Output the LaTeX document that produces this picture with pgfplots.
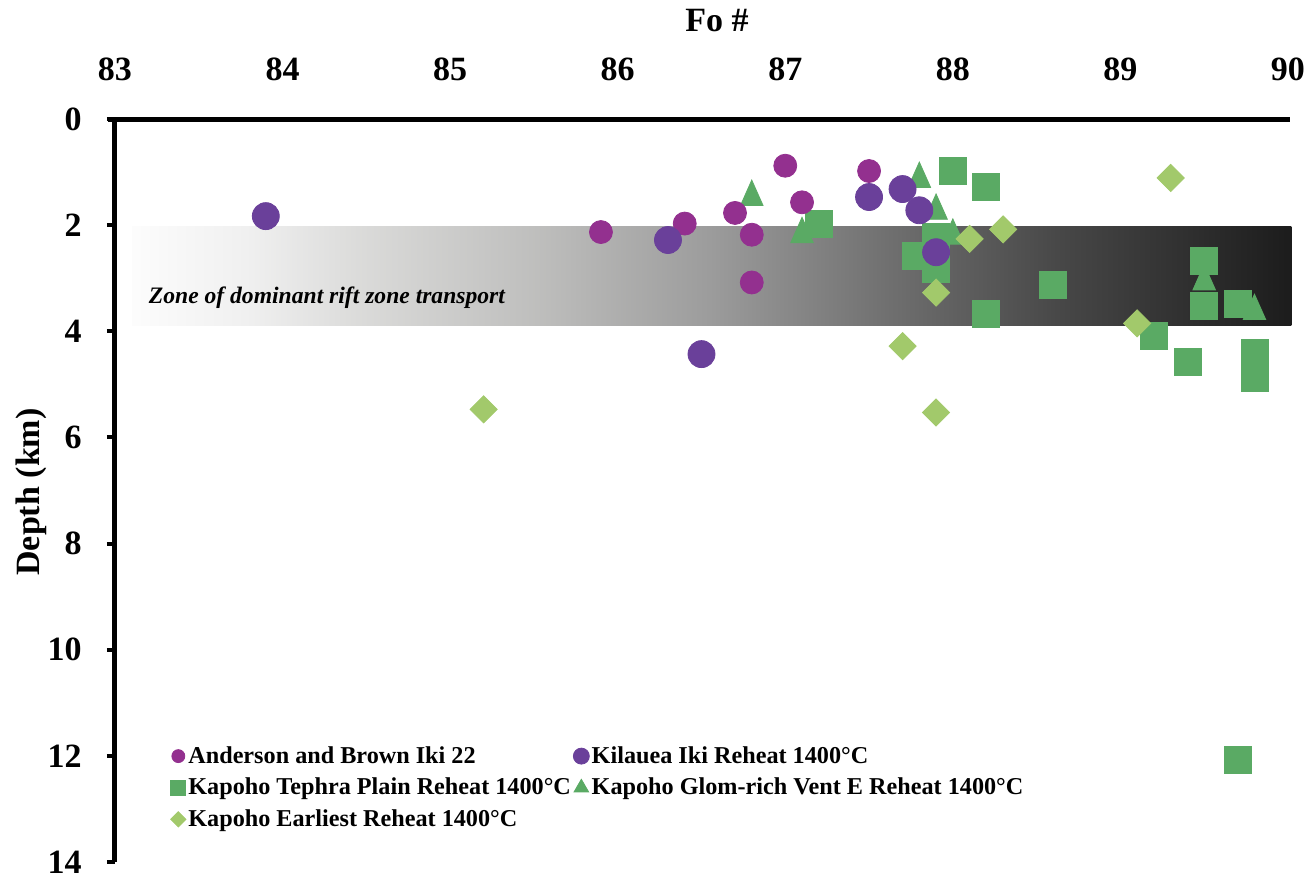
\documentclass[border=0pt]{standalone}
\usepackage{fontspec}
\setmainfont{Liberation Serif}
\usepackage{pgfplots}
\pgfplotsset{compat=1.18}
\definecolor{anderson}{HTML}{93308F}
\definecolor{kilauea}{HTML}{6A409A}
\definecolor{tephra}{HTML}{5AAA64}
\definecolor{earliest}{HTML}{A2C96B}
\pgfdeclarehorizontalshading{band}{100bp}{rgb(0bp)=(0.99,0.99,0.99); rgb(25bp)=(0.99,0.99,0.99); rgb(30bp)=(0.94,0.94,0.94); rgb(35bp)=(0.855,0.855,0.85); rgb(42.5bp)=(0.745,0.745,0.74); rgb(50bp)=(0.61,0.61,0.61); rgb(57.5bp)=(0.44,0.44,0.44); rgb(65bp)=(0.28,0.28,0.28); rgb(75bp)=(0.11,0.11,0.11); rgb(100bp)=(0.11,0.11,0.11)}
\begin{document}
\begin{tikzpicture}
\path[use as bounding box] (-57.5pt,-9pt) rectangle (596pt,431pt);
\begin{axis}[
  scale only axis, width=586.5pt, height=371.5pt,
  xmin=83, xmax=90, ymin=0, ymax=14, y dir=reverse,
  xtick={83,84,...,90}, ytick={0,2,...,14},
  axis line style={draw=none},
  xtick style={draw=none},
  ytick style={line width=2pt, black},
  tick align=outside, major tick length=4pt,
  ytick pos=left,
  xticklabel pos=upper,
  /pgf/number format/assume math mode=true,
  ticklabel style={font=\bfseries\fontsize{17}{20}\selectfont},
  xticklabel style={anchor=south, inner sep=0pt, yshift=15pt},
  yticklabel style={anchor=east, inner sep=0pt, xshift=-12.5pt},
  clip=false,
  legend columns=2,
  legend cell align=left,
  legend style={draw=none, fill=none, at={(axis cs:83.33,12.6)}, anchor=west,
    font=\bfseries\fontsize{12.1}{14}\selectfont, inner sep=0pt,
    row sep=3.5pt, column sep=0pt, nodes={inner sep=1.2pt}},
  legend image code/.code={\draw[mark repeat=2,mark phase=2,#1] plot coordinates {(0pt,0pt)(3pt,0pt)(6pt,0pt)};},
]
\shade[shading=band] (axis cs:83.1,2.02) rectangle (axis cs:90.02,3.89);
\node[anchor=west, font=\bfseries\itshape\fontsize{11.8}{13}\selectfont, inner sep=0pt] at (axis cs:83.2,3.37) {Zone of dominant rift zone transport};
\draw[line width=2.5pt] (axis cs:82.958,0) -- (axis cs:90.01,0);
\draw[line width=2.5pt] (axis cs:83,0) -- (axis cs:83,14);

% Kapoho Glom-rich Vent E (triangles)
\addplot[only marks, mark=triangle*, color=tephra, mark size=6.5pt, mark options={yscale=1.3}, forget plot] coordinates {
(86.80,1.47) (87.10,2.17) (87.80,1.13) (87.90,1.73) (88.00,2.20) (89.50,3.06) (89.80,3.62)};
% Kapoho Tephra Plain (squares)
\addplot[only marks, mark=square*, color=tephra, mark size=6.75pt, forget plot] coordinates {
(87.20,1.98) (88.00,0.98) (88.20,1.28) (87.90,2.23) (87.78,2.58) (87.90,2.83) (88.20,3.68) (88.60,3.13)
(89.50,2.68) (89.50,3.52) (89.70,3.49) (89.20,4.09) (89.40,4.58) (89.80,4.40) (89.80,4.87) (89.70,12.08)};
% Kapoho Earliest (diamonds)
\addplot[only marks, mark=square*, color=earliest, mark size=4.8pt, mark options={rotate=45}, forget plot] coordinates {
(85.20,5.47) (88.10,2.26) (87.90,3.27) (87.70,4.28) (87.90,5.53) (88.30,2.08) (89.30,1.11) (89.10,3.85)};
% Anderson and Brown Iki 22
\addplot[only marks, mark=*, color=anderson, mark size=5.75pt, forget plot] coordinates {
(85.90,2.13) (86.40,1.97) (86.70,1.77) (86.80,2.18) (86.80,3.08) (87.00,0.88) (87.10,1.57) (87.50,0.98)};
% Kilauea Iki Reheat
\addplot[only marks, mark=*, color=kilauea, mark size=6.75pt, forget plot] coordinates {
(83.90,1.83) (86.30,2.28) (86.50,4.43) (87.50,1.47) (87.70,1.32) (87.80,1.72) (87.90,2.51)};

\addlegendimage{only marks, mark=*, color=anderson, mark size=3.25pt}
\addlegendentry{Anderson and Brown Iki 22}
\addlegendimage{only marks, mark=*, color=kilauea, mark size=4pt}
\addlegendentry{Kilauea Iki Reheat 1400°C}
\addlegendimage{only marks, mark=square*, color=tephra, mark size=3.75pt}
\addlegendentry{Kapoho Tephra Plain Reheat 1400°C}
\addlegendimage{only marks, mark=triangle*, color=tephra, mark size=4.2pt}
\addlegendentry{Kapoho Glom-rich Vent E Reheat 1400°C}
\addlegendimage{only marks, mark=square*, color=earliest, mark size=2.7pt, mark options={rotate=45}}
\addlegendentry{Kapoho Earliest Reheat 1400°C}
\end{axis}
\node[font=\bfseries\fontsize{17}{20}\selectfont] at (301pt,420.5pt) {Fo \#};
\node[font=\bfseries\fontsize{17}{20}\selectfont, rotate=90] at (-42pt,185pt) {Depth (km)};
\end{tikzpicture}
\end{document}
